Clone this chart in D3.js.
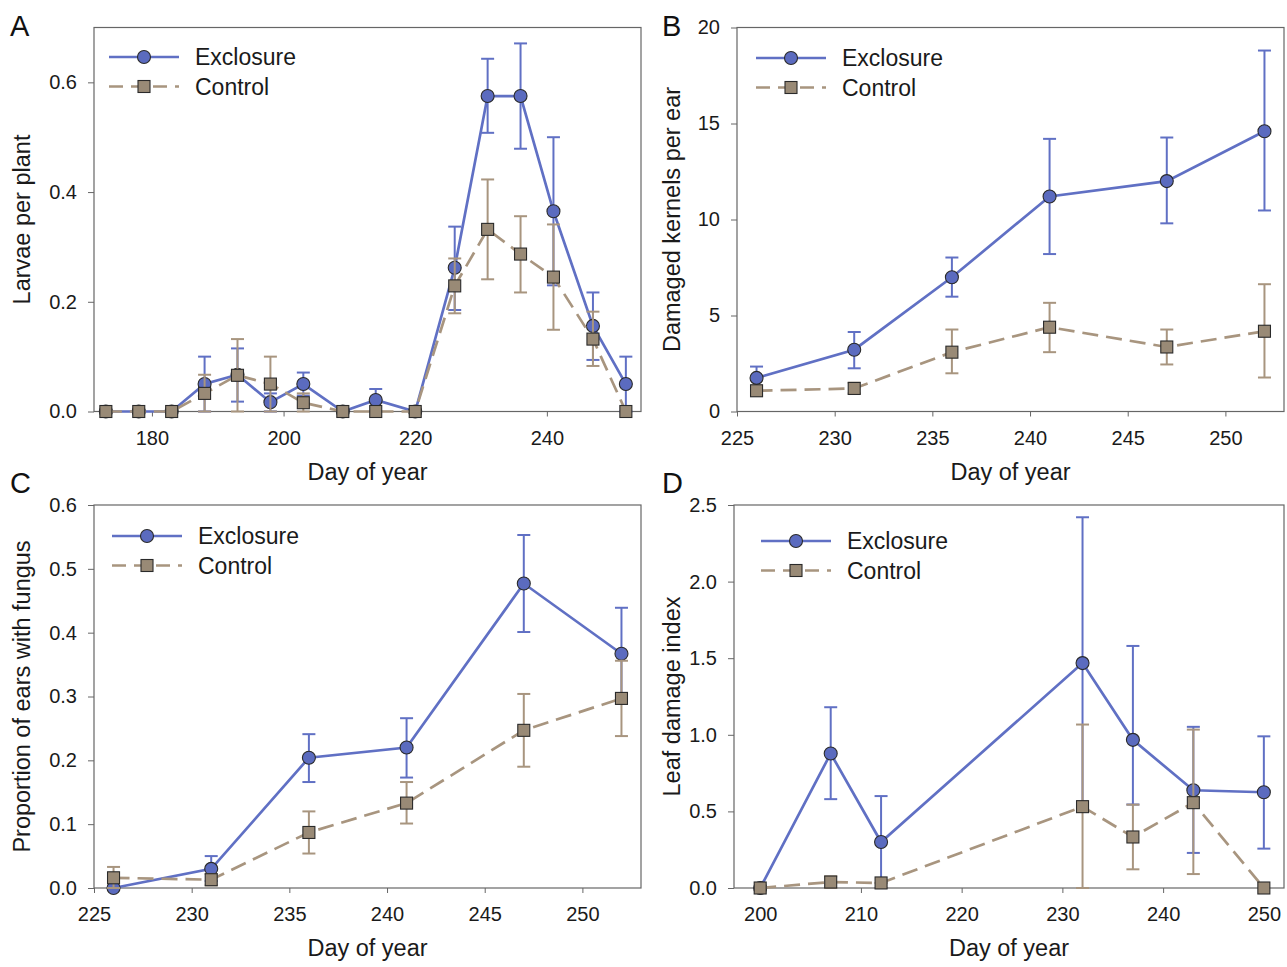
<!DOCTYPE html>
<html>
<head>
<meta charset="utf-8">
<script src="https://cdn.jsdelivr.net/npm/d3@7"></script>
<style>
  body { margin: 0; background: #fff; }
  svg { display: block; font-family: "Liberation Sans", Arial, sans-serif; }
</style>
</head>
<body>
<svg width="1287" height="967"></svg>
<script>
// panel A: larvae per plant
const daysA = [173, 178, 183, 188, 193, 198, 203, 209, 214, 220, 226, 231, 236, 241, 247, 252];
const exclA = [0, 0, 0, 0.05, 0.067, 0.017, 0.05, 0, 0.021, 0, 0.262, 0.575, 0.575, 0.365, 0.156, 0.05];
const exclAHi = [0, 0, 0, 0.10, 0.115, 0.033, 0.071, 0, 0.041, 0, 0.337, 0.643, 0.671, 0.50, 0.217, 0.10];
const exclALo = [0, 0, 0, 0.0, 0.018, 0.0, 0.029, 0, 0.0, 0, 0.185, 0.508, 0.479, 0.23, 0.094, 0.0];
const ctrlA = [0, 0, 0, 0.033, 0.066, 0.05, 0.016, 0, 0, 0, 0.229, 0.332, 0.287, 0.245, 0.132, 0];
const ctrlAHi = [0, 0, 0, 0.067, 0.132, 0.10, 0.033, 0, 0, 0, 0.279, 0.423, 0.356, 0.341, 0.182, 0];
const ctrlALo = [0, 0, 0, 0.0, 0.0, 0.0, 0.0, 0, 0, 0, 0.179, 0.241, 0.217, 0.149, 0.083, 0];

// panel B: damaged kernels per ear
const daysB = [226, 231, 236, 241, 247, 252];
const exclB = [1.75, 3.22, 6.99, 11.2, 12.0, 14.6];
const exclBHi = [2.34, 4.14, 8.02, 14.2, 14.27, 18.8];
const exclBLo = [1.17, 2.25, 5.98, 8.2, 9.8, 10.47];
const ctrlB = [1.08, 1.2, 3.09, 4.39, 3.36, 4.18];
const ctrlBHi = [1.3, 1.5, 4.27, 5.66, 4.27, 6.63];
const ctrlBLo = [0.82, 0.94, 1.99, 3.09, 2.45, 1.77];

// panel C: proportion of ears with fungus
const daysC = [226, 231, 236, 241, 247, 252];
const exclC = [0, 0.030, 0.204, 0.220, 0.477, 0.367];
const exclCHi = [0, 0.050, 0.241, 0.266, 0.553, 0.439];
const exclCLo = [0, 0.011, 0.166, 0.173, 0.401, 0.295];
const ctrlC = [0.016, 0.013, 0.087, 0.133, 0.247, 0.297];
const ctrlCHi = [0.033, 0.022, 0.120, 0.166, 0.304, 0.356];
const ctrlCLo = [0, 0.004, 0.054, 0.101, 0.19, 0.238];

// panel D: leaf damage index
const daysD = [200, 207, 212, 232, 237, 243, 250];
const exclD = [0, 0.878, 0.30, 1.468, 0.967, 0.638, 0.625];
const exclDHi = [0, 1.18, 0.60, 2.42, 1.58, 1.052, 0.99];
const exclDLo = [0, 0.58, 0.0, 0.52, 0.545, 0.229, 0.257];
const ctrlD = [0, 0.039, 0.033, 0.531, 0.333, 0.557, 0];
const ctrlDHi = [0, 0.076, 0.033, 1.067, 0.544, 1.034, 0];
const ctrlDLo = [0, 0.0, 0.0, 0.0, 0.122, 0.091, 0];

const seriesNames = ['Exclosure', 'Control'];

const blue = '#6070c4';
const blueFill = '#5b6bbf';
const tan = '#a8957f';
const tanFill = '#998a76';
const frameColor = '#666';
const textColor = '#1a1a1a';

const panels = [
  { letter: 'A', left: 94, right: 641, top: 27.5, bottom: 411.5,
    xDomain: [171.2, 254.3], yDomain: [0, 0.7], xTicks: [180, 200, 220, 240],
    yTicks: [0, 0.2, 0.4, 0.6], yFmt: d3.format('.1f'), yLabel: 'Larvae per plant',
    yLabelX: 22, letterX: 10, letterY: 36, legend: [109, 57],
    days: daysA, excl: [exclA, exclAHi, exclALo], ctrl: [ctrlA, ctrlAHi, ctrlALo] },
  { letter: 'B', left: 737, right: 1284, top: 27.5, bottom: 411.5,
    xDomain: [225, 253], yDomain: [0, 20], xTicks: [225, 230, 235, 240, 245, 250],
    yTicks: [0, 5, 10, 15, 20], yFmt: d3.format('d'), yLabel: 'Damaged kernels per ear',
    yLabelX: 672, letterX: 662, letterY: 36, legend: [756, 58],
    days: daysB, excl: [exclB, exclBHi, exclBLo], ctrl: [ctrlB, ctrlBHi, ctrlBLo] },
  { letter: 'C', left: 94, right: 641, top: 505, bottom: 888,
    xDomain: [225, 253], yDomain: [0, 0.6], xTicks: [225, 230, 235, 240, 245, 250],
    yTicks: [0, 0.1, 0.2, 0.3, 0.4, 0.5, 0.6], yFmt: d3.format('.1f'), yLabel: 'Proportion of ears with fungus',
    yLabelX: 22, letterX: 10, letterY: 493, legend: [112, 536],
    days: daysC, excl: [exclC, exclCHi, exclCLo], ctrl: [ctrlC, ctrlCHi, ctrlCLo] },
  { letter: 'D', left: 734, right: 1284, top: 505, bottom: 888,
    xDomain: [197.4, 252], yDomain: [0, 2.5], xTicks: [200, 210, 220, 230, 240, 250],
    yTicks: [0, 0.5, 1.0, 1.5, 2.0, 2.5], yFmt: d3.format('.1f'), yLabel: 'Leaf damage index',
    yLabelX: 672, letterX: 662, letterY: 493, legend: [761, 541],
    days: daysD, excl: [exclD, exclDHi, exclDLo], ctrl: [ctrlD, ctrlDHi, ctrlDLo] }
];

const svg = d3.select('svg');

const drawMarker = (g, type, x, y) => {
  if (type === 'circle') {
    g.append('circle')
      .attr('cx', x).attr('cy', y).attr('r', 6.5)
      .attr('fill', blueFill).attr('stroke', '#2a2a2a').attr('stroke-width', 1.1);
  } else {
    g.append('rect')
      .attr('x', x - 6).attr('y', y - 6).attr('width', 12).attr('height', 12)
      .attr('fill', tanFill).attr('stroke', '#2a2a2a').attr('stroke-width', 1.1);
  }
};

panels.forEach(p => {
  const g = svg.append('g');

  const x = d3.scaleLinear().domain(p.xDomain).range([p.left, p.right]);
  const y = d3.scaleLinear().domain(p.yDomain).range([p.bottom, p.top]);

  // x axis
  const xAxisG = g.append('g')
    .attr('transform', `translate(0,${p.bottom})`)
    .call(d3.axisBottom(x).tickValues(p.xTicks).tickSize(5).tickPadding(14).tickFormat(d3.format('d')));
  xAxisG.select('.domain').remove();
  xAxisG.selectAll('line').attr('stroke', frameColor);
  xAxisG.selectAll('text')
    .attr('font-size', 20).attr('fill', textColor)
    .attr('font-family', '"Liberation Sans", Arial, sans-serif');

  // y axis
  const yAxisG = g.append('g')
    .attr('transform', `translate(${p.left},0)`)
    .call(d3.axisLeft(y).tickValues(p.yTicks).tickSize(6).tickPadding(11).tickFormat(p.yFmt));
  yAxisG.select('.domain').remove();
  yAxisG.selectAll('line').attr('stroke', frameColor);
  yAxisG.selectAll('text')
    .attr('font-size', 20).attr('fill', textColor)
    .attr('font-family', '"Liberation Sans", Arial, sans-serif');

  // frame
  g.append('rect')
    .attr('x', p.left).attr('y', p.top)
    .attr('width', p.right - p.left).attr('height', p.bottom - p.top)
    .attr('fill', 'none').attr('stroke', frameColor).attr('stroke-width', 1.2);

  // axis titles
  g.append('text')
    .attr('x', (p.left + p.right) / 2).attr('y', p.bottom + 68)
    .attr('text-anchor', 'middle').attr('font-size', 23.5).attr('fill', textColor)
    .text('Day of year');
  g.append('text')
    .attr('transform', `translate(${p.yLabelX},${(p.top + p.bottom) / 2}) rotate(-90)`)
    .attr('text-anchor', 'middle').attr('dominant-baseline', 'central')
    .attr('font-size', 23.5).attr('fill', textColor)
    .text(p.yLabel);

  // panel letter
  g.append('text')
    .attr('x', p.letterX).attr('y', p.letterY)
    .attr('font-size', 29).attr('fill', '#111')
    .text(p.letter);

  const line = d3.line().x(d => x(d[0])).y(d => y(d[1]));

  const series = [
    { vals: p.excl, color: blue, dash: null, marker: 'circle' },
    { vals: p.ctrl, color: tan, dash: '16,8', marker: 'square' }
  ];

  series.forEach(s => {
    const pts = p.days.map((d, i) => [d, s.vals[0][i], s.vals[1][i], s.vals[2][i]]);
    const sg = g.append('g');

    sg.append('path')
      .datum(pts)
      .attr('d', line)
      .attr('fill', 'none')
      .attr('stroke', s.color)
      .attr('stroke-width', 2.7)
      .attr('stroke-dasharray', s.dash);

    // error bars
    pts.filter(d => d[2] !== d[3]).forEach(d => {
      const cx = x(d[0]);
      sg.append('line')
        .attr('x1', cx).attr('x2', cx).attr('y1', y(d[2])).attr('y2', y(d[3]))
        .attr('stroke', s.color).attr('stroke-width', 2);
      [d[2], d[3]].forEach(v => {
        sg.append('line')
          .attr('x1', cx - 6.5).attr('x2', cx + 6.5).attr('y1', y(v)).attr('y2', y(v))
          .attr('stroke', s.color).attr('stroke-width', 2);
      });
    });

    pts.forEach(d => drawMarker(sg, s.marker, x(d[0]), y(d[1])));
  });

  // legend
  const [lx, ly] = p.legend;
  const legendG = g.append('g');
  series.forEach((s, i) => {
    const yy = ly + i * 29.5;
    legendG.append('line')
      .attr('x1', lx).attr('x2', lx + 70).attr('y1', yy).attr('y2', yy)
      .attr('stroke', s.color).attr('stroke-width', 2.7)
      .attr('stroke-dasharray', s.dash ? '14,8' : null);
    drawMarker(legendG, s.marker, lx + 35, yy);
    legendG.append('text')
      .attr('x', lx + 86).attr('y', yy)
      .attr('dominant-baseline', 'central')
      .attr('font-size', 23).attr('fill', textColor)
      .text(seriesNames[i]);
  });
});
</script>
</body>
</html>
